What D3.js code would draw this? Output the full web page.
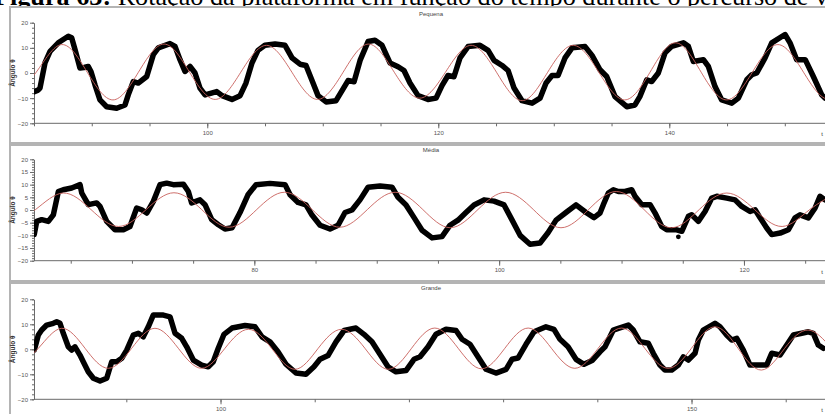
<!DOCTYPE html>
<html>
<head>
<meta charset="utf-8">
<script src="https://cdn.jsdelivr.net/npm/d3@7/dist/d3.min.js"></script>
<style>
body{margin:0;background:#fff;}
svg{display:block;}
</style>
</head>
<body>
<div id="root"></div>
<script>
const pequenaMed = [[85.03,-7.4],[85.35,-6.8],[85.52,-6],[85.95,4],[86.39,8.6],[87.10,12],[87.97,14.6],[88.26,14],[88.55,9.3],[88.98,2],[89.33,2.2],[89.70,2.6],[89.94,0.5],[90.28,-4.7],[90.71,-10.7],[91.29,-13.4],[92.16,-14],[92.88,-12.7],[93.16,-8.7],[93.60,-3.4],[94.03,-4],[94.76,-1.4],[95.33,7.3],[95.76,10],[96.77,11.7],[97.21,10.6],[97.64,5.3],[98.07,0.6],[98.51,2.6],[98.94,0],[99.37,-6],[99.81,-8.7],[100.82,-7.4],[101.28,-9],[102.14,-10.5],[102.84,-9],[103.35,-4],[103.87,4],[104.39,9],[104.99,11],[105.87,11.5],[106.73,11],[107.34,6],[108.03,3.5],[108.55,3],[109.07,-3],[109.59,-9],[110.29,-11.5],[111.15,-11],[111.67,-7],[112.19,-3],[112.71,-3.5],[113.23,5],[113.92,12.5],[114.52,13],[115.13,11],[115.82,4],[116.52,2.5],[117.03,1],[117.55,-4],[118.25,-9],[119.11,-10.5],[119.81,-10],[120.32,-5],[120.84,-1],[121.36,-1.5],[121.88,6],[122.58,10.5],[123.61,11],[124.31,9],[124.83,5],[125.52,3],[126.04,1],[126.56,-6],[127.25,-11],[128.12,-12],[128.81,-10],[129.33,-4],[129.85,-1],[130.37,-1],[130.97,6],[131.58,10],[132.71,10.5],[133.31,7],[134.00,1.3],[134.58,-1.4],[135.30,-9.4],[136.32,-13.4],[137.03,-12.7],[137.45,-9.4],[138.05,-2.7],[138.48,-3.4],[139.05,0],[139.63,8],[140.21,10.6],[141.22,12],[141.65,10.6],[142.08,4.6],[142.95,5.3],[143.38,2.6],[143.96,-5.4],[144.54,-10.7],[145.41,-12],[145.98,-10],[146.71,-2.7],[147.14,-0.7],[147.57,0],[148.29,6],[148.87,12],[150.02,15.3],[150.45,12],[151.03,5.3],[151.77,5.3],[152.47,-1.4],[153.20,-8.7],[153.48,-10]];
const pequenaFit = [[82.97,-10.5],[85.19,0.3],[87.40,11.3],[89.61,0.3],[91.83,-10.7],[94.04,0.3],[96.26,11.5],[98.47,0.3],[100.69,-10.5],[102.90,0.3],[105.12,11],[107.33,0.3],[109.54,-10.5],[111.76,0.3],[113.97,11.5],[116.19,0.3],[118.40,-10],[120.62,0.3],[122.83,11],[125.04,0.3],[127.26,-11],[129.47,0.3],[131.69,11],[133.90,0.3],[136.12,-10.7],[138.33,0.3],[140.54,12],[142.76,0.3],[144.97,-10.7],[147.19,0.3],[149.40,11.3],[151.62,0.3],[153.83,-10.5],[156.05,0.3]];

const mediaMed = [[62.02,-9.7],[62.22,-4.5],[62.63,-3.8],[63.17,-4.5],[63.58,-1.9],[63.99,7.3],[64.39,8],[65.08,8.7],[65.76,10],[65.90,6.7],[66.44,2.1],[67.12,2.8],[67.39,1.4],[67.94,-4.5],[68.62,-7.8],[69.30,-7.8],[69.84,-6.5],[70.39,0.8],[70.80,0.1],[71.21,-1.2],[71.75,3.4],[72.29,10],[72.84,10.6],[73.38,10],[74.20,10.2],[74.61,7.3],[74.88,2.8],[75.56,4],[75.97,2.1],[76.52,-3.8],[77.06,-5.8],[77.60,-7.5],[78.18,-7],[78.83,-1],[79.48,6],[80.14,10],[81.28,10.5],[82.51,10],[82.92,6],[83.57,3],[84.22,2],[84.71,-2],[85.37,-6],[86.18,-7.5],[86.84,-6],[87.41,-1],[87.98,0],[88.63,4],[89.29,9],[90.27,9.5],[91.25,9],[91.74,5],[92.39,2],[93.05,-3],[93.70,-8],[94.52,-11],[95.33,-10.5],[95.99,-6],[96.64,-4],[97.29,-1],[97.95,2],[98.77,4],[99.58,3.5],[100.40,2],[101.06,-4],[101.71,-10],[102.52,-13.5],[103.34,-13],[103.99,-9],[104.65,-4],[105.46,-1],[106.28,2],[107.10,-1],[107.75,-3],[108.24,-1.2],[108.51,2.1],[108.92,6.7],[109.33,8],[109.74,7.3],[110.28,7.3],[110.83,8],[111.10,5.4],[111.65,2.1],[112.33,2.1],[112.74,-1.2],[113.28,-6.5],[113.69,-7.8],[114.51,-7.8],[114.92,-8.4],[115.46,-2.5],[115.73,-1.9],[116.27,-4.5],[116.82,-0.6],[117.37,4.7],[117.78,5.4],[118.59,4.7],[119.27,4],[119.82,1.4],[120.50,-0.6],[120.91,0.1],[121.32,-3.1],[121.86,-7.1],[122.27,-9.7],[122.95,-9.1],[123.63,-7.8],[124.17,-3.1],[124.58,-1.9],[125.26,-3.1],[125.81,0.8],[126.21,5.4],[126.62,4]];
const mediaStray = [[114.64,-10.6]];
const mediaFit = [[59.87,-6.5],[62.13,0.2],[64.39,6.7],[66.65,0.2],[68.91,-6.5],[71.17,0.2],[73.43,6.8],[75.69,0.2],[77.94,-6.8],[80.20,0.2],[82.46,7],[84.72,0.2],[86.98,-6.8],[89.24,0.2],[91.50,7],[93.76,0.2],[96.01,-7],[98.27,0.2],[100.53,7],[102.79,0.2],[105.05,-7],[107.31,0.2],[109.57,7.3],[111.83,0.2],[114.09,-7],[116.35,0.2],[118.60,6.7],[120.86,0.2],[123.12,-6.5],[125.38,0.2],[127.64,6.8]];

const grandeMed = [[80.23,-0.3],[80.66,5.7],[81.02,7.7],[81.55,9.7],[82.25,10.4],[82.61,11],[82.96,10.4],[83.31,6.4],[83.84,1],[84.20,-0.3],[84.55,1],[85.08,-2.3],[85.43,-5],[85.96,-9],[86.50,-11.6],[87.21,-12.7],[87.92,-11.6],[88.45,-5],[88.98,-5],[89.51,-3.6],[90.04,-0.3],[90.74,5.7],[91.27,6.4],[91.80,5],[92.33,9],[92.86,13.7],[93.93,13.7],[94.64,13],[95.17,6.4],[95.88,4.4],[96.41,1],[97.11,-4.3],[98.00,-6.3],[98.70,-7],[99.23,-5],[99.76,0.4],[100.37,6],[101.22,8.5],[102.60,9.5],[103.66,9],[104.40,5],[105.25,3],[106.10,-1],[106.95,-6],[108.01,-9.5],[109.07,-10],[109.92,-7],[110.56,-4],[111.41,-2.5],[112.26,3],[113.11,7.5],[114.38,8.5],[115.23,6],[116.08,3],[116.93,-2],[117.78,-7],[118.63,-9],[119.69,-8.5],[120.54,-4],[121.18,-3],[122.03,1],[122.87,6],[123.94,8],[125.00,7.5],[125.64,4],[126.48,2],[127.33,-3],[128.18,-8],[129.24,-9.5],[130.31,-8],[130.94,-4],[131.58,-3.5],[132.43,2],[133.28,7],[134.55,9],[135.40,8],[136.04,4],[136.89,1],[137.74,-4],[138.59,-6],[139.44,-4.5],[140.28,-1],[140.82,1],[141.70,7.7],[142.23,8.4],[143.29,9.7],[143.82,7.7],[144.53,3],[145.41,2.4],[145.94,-1.6],[146.65,-6.3],[147.18,-8.3],[147.90,-8.3],[148.60,-6.3],[149.13,-3],[149.66,-4.3],[150.37,-1.6],[150.72,3.7],[151.25,7.7],[152.49,10.4],[153.02,9],[153.73,5.7],[154.27,3.7],[154.80,4.4],[155.50,-0.3],[156.21,-6.3],[156.92,-6.3],[157.98,-6.3],[158.51,-1.6],[159.40,-2.3],[160.11,1.7],[160.81,5.7],[161.70,6.4],[162.40,7],[162.93,6.4],[163.46,1.7],[163.99,0.4]];
const grandeFit = [[78.19,-7.6],[80.66,0.4],[83.14,8.4],[85.62,0.4],[88.09,-7.6],[90.57,0.4],[93.04,8.4],[95.52,0.4],[98.00,-7.6],[100.47,0.4],[102.95,8],[105.42,0.4],[107.90,-8],[110.37,0.4],[112.85,8],[115.33,0.4],[117.80,-8],[120.28,0.4],[122.75,8.5],[125.23,0.4],[127.71,-7.8],[130.18,0.4],[132.66,8.5],[135.13,0.4],[137.61,-7.6],[140.09,0.4],[142.56,8.5],[145.04,0.4],[147.51,-7.6],[149.99,0.4],[152.47,9],[154.94,0.4],[157.42,-8.3],[159.89,0.4],[162.37,7.7],[164.85,0.4]];

// tick values
const pequenaXTicks = d3.range(85, 155, 5), pequenaXLabels = [100, 120, 140];
const mediaXTicks = d3.range(65, 130, 5), mediaXLabels = [80, 100, 120];
const grandeXTicks = d3.range(90, 170, 10), grandeXLabels = [100, 150];
const yLabels10 = [-20, -10, 0, 10, 20], yMinor2 = d3.range(-20, 21, 2);
const yLabels5 = [-20, -15, -10, -5, 0, 5, 10, 15, 20], yMinor1 = d3.range(-20, 21, 1);

const width = 825, height = 414;
const axisColor = '#6a6a6a', fitColor = '#c9605c';

const svg = d3.select('#root').append('svg')
  .attr('width', width).attr('height', height)
  .style('font-family', 'Liberation Sans, Arial, sans-serif');
svg.append('rect').attr('width', width).attr('height', height).attr('fill', '#fff');

// caption, only its lower half is inside the picture
const cap = svg.append('text').attr('x', -6).attr('y', 5)
  .style('font-family', 'Liberation Serif, Times New Roman, serif')
  .style('font-size', '22px').attr('fill', '#000');
cap.append('tspan').style('font-weight', 700).text('Figura 63:');
const capRest = cap.append('tspan').text(' Rotação da plataforma em função do tempo durante o percurso de ');
cap.append('tspan').text('volta');
// grow the font until "de " ends where it does in the figure
const endNow = -6 + cap.node().getSubStringLength(0, 10 + capRest.text().length);
cap.style('font-size', (22 * 814 / endNow).toFixed(2) + 'px');

const panels = [
  {title: 'Pequena', top: 7, bottom: 143, tY: 16, x: [85, 153.48], y: [123.3, 22.7],
   med: pequenaMed, fit: pequenaFit, stray: [], xt: pequenaXTicks, xl: pequenaXLabels, yl: yLabels10, ym: yMinor2},
  {title: 'Média', top: 145, bottom: 281, tY: 152, x: [62, 126.62], y: [260.7, 159.3],
   med: mediaMed, fit: mediaFit, stray: mediaStray, xt: mediaXTicks, xl: mediaXLabels, yl: yLabels5, ym: yMinor1},
  {title: 'Grande', top: 283, bottom: 430, tY: 290, x: [80.2, 164.17], y: [399.3, 299.3],
   med: grandeMed, fit: grandeFit, stray: [], xt: grandeXTicks, xl: grandeXLabels, yl: yLabels10, ym: yMinor2}
];

panels.forEach((p, i) => {
  const g = svg.append('g');
  g.append('rect').attr('x', 10).attr('y', p.top).attr('width', 900).attr('height', p.bottom - p.top)
    .attr('fill', '#fff').attr('stroke', '#b4b4b4').attr('stroke-width', 2);
  g.append('text').attr('x', 431).attr('y', p.tY).attr('text-anchor', 'middle')
    .style('font-size', '6px').attr('fill', '#444').text(p.title);

  const xs = d3.scaleLinear().domain(p.x).range([34, 825]);
  const ys = d3.scaleLinear().domain([-20, 20]).range(p.y);

  g.append('clipPath').attr('id', 'clip' + i).append('rect')
    .attr('x', 34).attr('y', p.y[1] - 6).attr('width', 800).attr('height', p.y[0] - p.y[1] + 12);

  // axes
  const axY = p.y[0];
  const xMinor = g.append('g').attr('transform', `translate(0,${axY})`)
    .call(d3.axisBottom(xs).tickValues(p.xt).tickSize(3).tickFormat('').tickSizeOuter(0));
  const xMajor = g.append('g').attr('transform', `translate(0,${axY})`)
    .call(d3.axisBottom(xs).tickValues(p.xl).tickSize(5).tickSizeOuter(0).tickPadding(2));
  xMajor.select('.domain').remove();
  xMinor.select('.domain').attr('d', 'M34,0H825');
  const yMinor = g.append('g').attr('transform', 'translate(34,0)')
    .call(d3.axisLeft(ys).tickValues(p.ym).tickSize(2).tickFormat('').tickSizeOuter(0));
  const yMajor = g.append('g').attr('transform', 'translate(34,0)')
    .call(d3.axisLeft(ys).tickValues(p.yl).tickSize(4).tickSizeOuter(0).tickPadding(2));
  yMajor.select('.domain').remove();
  [xMinor, xMajor, yMinor, yMajor].forEach(a => {
    a.selectAll('line').attr('stroke', axisColor);
    a.selectAll('.domain').attr('stroke', axisColor);
    a.selectAll('text').style('font-size', '6px').attr('fill', '#555').style('font-family', 'Liberation Sans, Arial, sans-serif');
  });

  g.append('text').attr('transform', `translate(15,${(p.y[0] + p.y[1]) / 2}) rotate(-90)`)
    .attr('text-anchor', 'middle').style('font-size', '6.5px').style('font-weight', 700)
    .attr('fill', '#333').text('Ângulo θ');
  g.append('text').attr('x', 822).attr('y', axY + 13).attr('text-anchor', 'middle')
    .style('font-size', '6px').attr('fill', '#333').text('t');

  const plot = g.append('g').attr('clip-path', `url(#clip${i})`);
  const line = d3.line().x(d => xs(d[0])).y(d => ys(d[1]));
  plot.append('path').datum(p.med).attr('d', line)
    .attr('fill', 'none').attr('stroke', '#000').attr('stroke-width', 5.5)
    .attr('stroke-linejoin', 'round').attr('stroke-linecap', 'round');
  plot.selectAll('circle.stray').data(p.stray).enter().append('circle')
    .attr('cx', d => xs(d[0])).attr('cy', d => ys(d[1])).attr('r', 2.4).attr('fill', '#000');
  plot.append('path').datum(p.fit).attr('d', line.curve(d3.curveNatural))
    .attr('fill', 'none').attr('stroke', fitColor).attr('stroke-width', 1).attr('opacity', 0.9);
});
</script>
</body>
</html>
